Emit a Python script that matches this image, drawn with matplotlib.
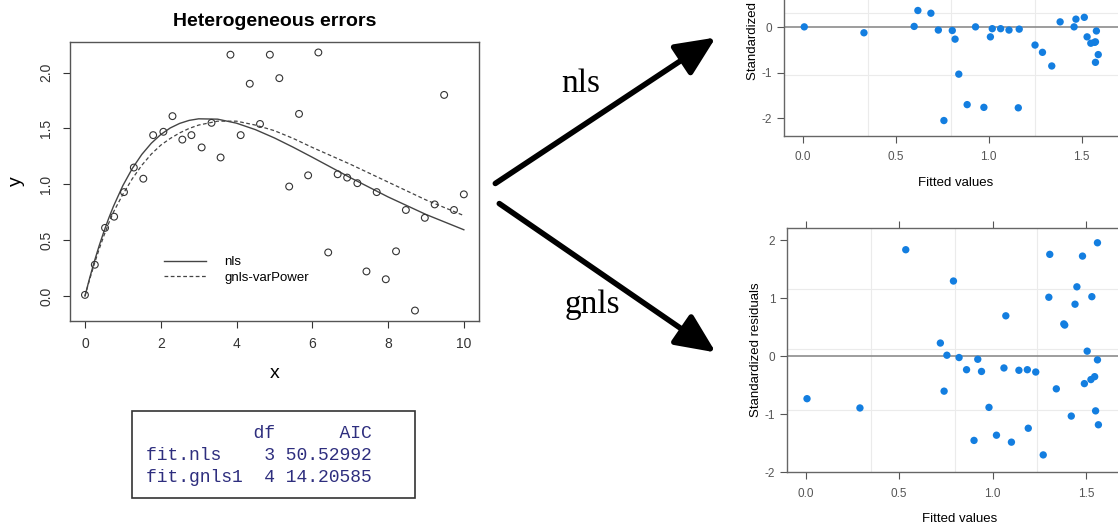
import matplotlib
matplotlib.use("Agg")
import matplotlib.pyplot as plt
from matplotlib.patches import FancyArrowPatch, Rectangle

plt.rcParams["font.family"] = ["Liberation Sans", "DejaVu Sans"]
plt.rcParams["axes.unicode_minus"] = False

# raw data (left panel)
x_obs = [0.00, 0.26, 0.53, 0.77, 1.03, 1.29, 1.54, 1.80, 2.07, 2.31,
         2.57, 2.81, 3.08, 3.34, 3.58, 3.84, 4.11, 4.35, 4.62, 4.88,
         5.13, 5.39, 5.65, 5.89, 6.16, 6.42, 6.67, 6.92, 7.19, 7.43,
         7.70, 7.94, 8.21, 8.47, 8.71, 8.97, 9.23, 9.48, 9.74, 10.00]
y_obs = [0.01, 0.28, 0.61, 0.71, 0.93, 1.15, 1.05, 1.44, 1.47, 1.61,
         1.40, 1.44, 1.33, 1.55, 1.24, 2.16, 1.44, 1.90, 1.54, 2.16,
         1.95, 0.98, 1.63, 1.08, 2.18, 0.39, 1.09, 1.06, 1.01, 0.22,
         0.93, 0.15, 0.40, 0.77, -0.13, 0.70, 0.82, 1.80, 0.77, 0.91]

# fitted curves
x_fit = [0, 0.125, 0.25, 0.375, 0.5, 0.625, 0.75, 1, 1.25, 1.5, 1.75, 2, 2.25,
         2.5, 2.75, 3, 3.5, 4, 4.5, 5, 5.5, 6, 7, 8, 9, 10]
y_nls = [0, 0.162, 0.312, 0.450, 0.577, 0.694, 0.801, 0.988, 1.142, 1.267, 1.367,
         1.445, 1.504, 1.545, 1.572, 1.586, 1.583, 1.547, 1.489, 1.415, 1.331,
         1.242, 1.060, 0.887, 0.730, 0.593]
y_gnls = [0, 0.15, 0.29, 0.42, 0.54, 0.65, 0.75, 0.91, 1.05, 1.17, 1.27,
          1.35, 1.41, 1.46, 1.50, 1.53, 1.565, 1.565, 1.53, 1.48, 1.41,
          1.33, 1.18, 1.02, 0.86, 0.72]

# residuals vs fitted, nls (only the visible part)
fit_nls = [0.009, 0.33, 0.60, 0.62, 0.69, 0.73, 0.76, 0.805, 0.82, 0.84,
           0.885, 0.93, 0.975, 1.01, 1.02, 1.065, 1.11, 1.16, 1.165, 1.25,
           1.29, 1.34, 1.385, 1.46, 1.47, 1.515, 1.53, 1.55, 1.57, 1.575,
           1.58, 1.59, 1.575]
res_nls = [0.01, -0.12, 0.02, 0.37, 0.31, -0.06, -2.05, -0.07, -0.26, -1.03,
           -1.70, 0.01, -1.76, -0.21, -0.03, -0.03, -0.06, -1.77, -0.04, -0.39,
           -0.55, -0.85, 0.12, 0.01, 0.18, 0.22, -0.21, -0.35, -0.33, -0.77,
           -0.08, -0.60, -0.32]

# residuals vs fitted, gnls
fit_gnls = [0.007, 0.29, 0.535, 0.72, 0.74, 0.755, 0.79, 0.82, 0.86, 0.90,
            0.92, 0.94, 0.98, 1.02, 1.06, 1.07, 1.10, 1.14, 1.185, 1.19,
            1.23, 1.27, 1.30, 1.305, 1.34, 1.38, 1.385, 1.42, 1.44, 1.45,
            1.48, 1.49, 1.505, 1.525, 1.53, 1.545, 1.55, 1.56, 1.56, 1.565]
res_gnls = [-0.73, -0.89, 1.84, 0.23, -0.60, 0.02, 1.30, -0.02, -0.23, -1.45,
            -0.05, -0.26, -0.88, -1.36, -0.20, 0.70, -1.48, -0.24, -0.23, -1.24,
            -0.27, -1.70, 1.02, 1.76, -0.56, 0.56, 0.54, -1.03, 0.90, 1.20,
            1.73, -0.47, 0.09, -0.40, 1.03, -0.35, -0.94, 1.96, -0.06, -1.18]

aic_rows = ["fit.nls", "fit.gnls1"]
aic_df = [3, 4]
aic_val = [50.52992, 14.20585]

W, H = 1118, 525
fig = plt.figure(figsize=(W / 100, H / 100), dpi=100)

def frac(left, top, right, bottom):
    return [left / W, 1 - bottom / H, (right - left) / W, (bottom - top) / H]

# ---- left panel: base-R style scatter with fits
ax = fig.add_axes(frac(69.8, 42.4, 479, 320.6))
ax.scatter(x_obs, y_obs, s=24, facecolors="none", edgecolors="#333333", linewidths=0.8, zorder=3)
ax.plot(x_fit, y_nls, color="#444444", lw=1.0, label="nls")
ax.plot(x_fit, y_gnls, color="#444444", lw=0.9, ls=(0, (3, 2)), label="gnls-varPower")
ax.set_xlim(-0.4, 10.4)
ax.set_ylim(-0.22, 2.27)
ax.set_xticks([0, 2, 4, 6, 8, 10])
ax.set_yticks([0.0, 0.5, 1.0, 1.5, 2.0])
ax.set_yticklabels(["0.0", "0.5", "1.0", "1.5", "2.0"], rotation=90, va="center")
ax.tick_params(length=5, pad=7, labelsize=10, colors="#333333")
for s in ax.spines.values():
    s.set_color("#555555")
    s.set_linewidth(1.0)
ax.set_title("Heterogeneous errors", fontsize=14, fontweight="bold", pad=12)
ax.set_xlabel("x", fontsize=14, labelpad=10)
ax.set_ylabel("y", fontsize=14, labelpad=10)
ax.legend(loc="lower left", bbox_to_anchor=(0.2, 0.09), frameon=False, fontsize=9.5,
          handlelength=3.2, handletextpad=1.4, labelspacing=0.25)

# ---- right panels: lattice style residual plots
def resid_panel(rect, fx, ry, xlim, ylim, hgrid, vgrid):
    a = fig.add_axes(rect)
    a.set_xlim(*xlim)
    a.set_ylim(*ylim)
    for g in vgrid:
        a.axvline(g, color="#ebebeb", lw=0.8, zorder=0)
    for g in hgrid:
        a.axhline(g, color="#ebebeb", lw=0.8, zorder=0)
    a.axhline(0, color="#8c8c8c", lw=1.2, zorder=1)
    a.scatter(fx, ry, s=28, color="#137ee0", edgecolors="none", zorder=3)
    a.set_xticks([0.0, 0.5, 1.0, 1.5])
    a.set_xticklabels(["0.0", "0.5", "1.0", "1.5"])
    a.set_yticks([-2, -1, 0, 1, 2])
    a.tick_params(direction="out", length=5, labelsize=8.5, colors="#555555",
                  top=True, right=True, labelcolor="#555555")
    a.tick_params(axis="x", pad=6)
    for s in a.spines.values():
        s.set_color("#666666")
        s.set_linewidth(1.0)
    a.set_xlabel("Fitted values", fontsize=9.5, labelpad=10)
    a.set_ylabel("Standardized residuals", fontsize=9.5, labelpad=2)
    return a

resid_panel(frac(784, -110, 1128, 136), fit_nls, res_nls, (-0.1, 1.75), (-2.39, 3.02),
            [0.31, -1.05], [0.353, 0.80, 1.249])
resid_panel(frac(787, 227.7, 1133, 472.3), fit_gnls, res_gnls, (-0.1, 1.75), (-1.96, 2.22),
            [1.17, 0.12, -0.92], [0.348, 0.797, 1.235])

# ---- overlay: arrows, labels and AIC table
ov = fig.add_axes([0, 0, 1, 1], facecolor="none")
ov.set_xlim(0, W)
ov.set_ylim(H, 0)
ov.axis("off")

for start, end in [((493, 185), (718, 36)), ((497, 202), (718, 354))]:
    ov.add_patch(FancyArrowPatch(start, end, arrowstyle="-|>,head_length=11,head_width=5",
                                 mutation_scale=2.2, lw=4, color="black"))
ov.text(581, 84, "nls", fontsize=24, family="Liberation Serif", ha="center", va="center")
ov.text(592, 305, "gnls", fontsize=24, family="Liberation Serif", ha="center", va="center")

ov.add_patch(Rectangle((131.7, 411), 283.3, 87.3, fill=False, lw=1.2, edgecolor="#333333"))
header = " " * 10 + "df" + " " * 6 + "AIC"
lines = [header] + [f"{n:<10}{d:>2} {v:.5f}" for n, d, v in zip(aic_rows, aic_df, aic_val)]
for i, line in enumerate(lines):
    ov.text(146, 434 + 22 * i, line, fontsize=13, family="Liberation Mono",
            color="#2e2e7e", ha="left", va="center")

fig.savefig("out.png", dpi=100)
